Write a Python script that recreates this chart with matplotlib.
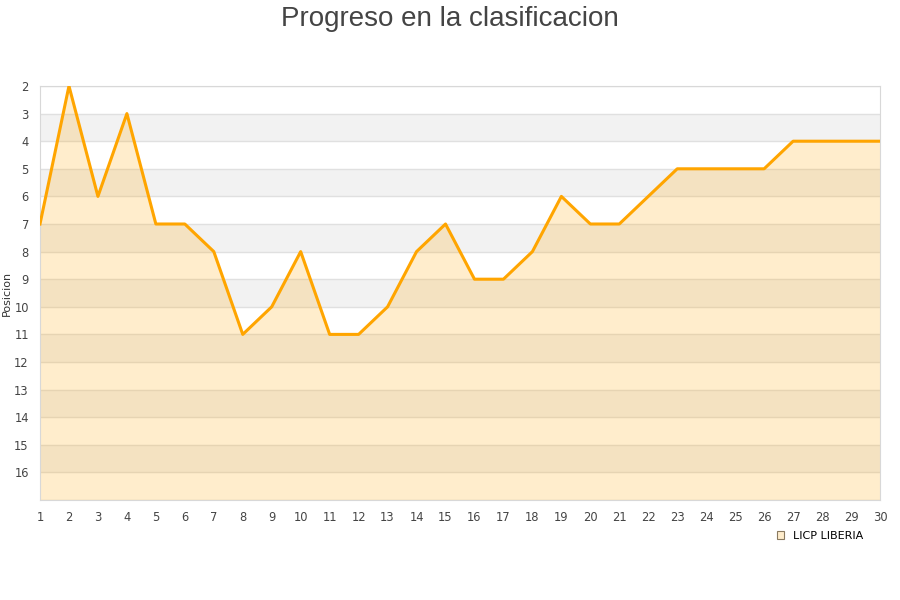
import matplotlib
matplotlib.use("Agg")
import matplotlib.pyplot as plt
from matplotlib.patches import Patch

rounds = list(range(1, 31))
positions = [7, 2, 6, 3, 7, 7, 8, 11, 10, 8, 11, 11, 10, 8, 7, 9, 9, 8, 6, 7,
             7, 6, 5, 5, 5, 5, 4, 4, 4, 4]
team = "LICP LIBERIA"
title = "Progreso en la clasificacion"
ylabel = "Posicion"
y_ticks = list(range(2, 17))

fig = plt.figure(figsize=(9, 6), dpi=100)
ax = fig.add_axes([40/900, 1-500/600, 840/900, 414/600])

# alternating bands
for y in range(2, 17):
    if y % 2 == 1:
        ax.axhspan(y, y + 1, color="#f2f2f2", lw=0, zorder=0)
for y in range(2, 18):
    ax.axhline(y, color="#e0e0e0", lw=1, zorder=1)

ax.fill_between(rounds, positions, 17, color="#ffa500", alpha=0.2, lw=0, zorder=2)
ax.plot(rounds, positions, color="#ffa500", lw=2.2, zorder=3)

ax.set_xlim(1, 30)
ax.set_ylim(17, 2)
ax.set_xticks(rounds)
ax.set_yticks(y_ticks)
ax.tick_params(length=0, labelsize=8.3, colors="#444444")
ax.tick_params(axis="x", pad=8)
ax.tick_params(axis="y", pad=8)
for s in ax.spines.values():
    s.set_color("#d8d8d8")
ax.set_ylabel(ylabel, fontsize=8, color="#333333", labelpad=2)

fig.suptitle(title, fontsize=20, color="#444444", family="Liberation Sans", y=0.99, va="top")

handle = Patch(facecolor="#ffedcc", edgecolor="#8a7a60", lw=0.8)
fig.legend([handle], [team], loc="center", bbox_to_anchor=(820/900, 1-536/600),
           frameon=False, fontsize=8, handlelength=0.7, handleheight=0.7, handletextpad=0.8)

fig.savefig("out.png", dpi=100)
